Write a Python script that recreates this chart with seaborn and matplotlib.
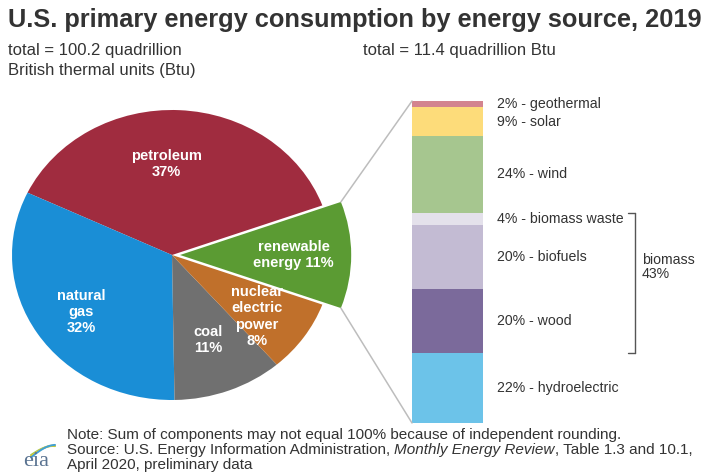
import numpy as np
import pandas as pd
import matplotlib
matplotlib.use("Agg")
import matplotlib.pyplot as plt
import seaborn as sns
from matplotlib.patches import ConnectionPatch
from matplotlib.transforms import blended_transform_factory
from matplotlib.lines import Line2D

# ---------------- data ----------------
pie_sources = ["renewable", "petroleum", "natural gas", "coal", "nuclear"]
pie_labels = ["renewable\nenergy 11%", "petroleum\n37%", "natural\ngas\n32%",
              "coal\n11%", "nuclear\nelectric\npower\n8%"]
pie_values = [11, 37, 32, 11, 8]
pie_colors = ["#5B9B33", "#A02C3F", "#1A8ED6", "#707070", "#C0702B"]

bar_sources = ["hydroelectric", "wood", "biofuels", "biomass waste", "wind", "solar", "geothermal"]
bar_values = [22, 20, 20, 4, 24, 9, 2]
bar_colors = ["#6CC3E9", "#7B6A9B", "#C3BBD3", "#E4E1EB", "#A6C68F", "#FDDC7A", "#D3848F"]
biomass_label = "biomass\n43%"

title = "U.S. primary energy consumption by energy source, 2019"
sub_left = ["total = 100.2 quadrillion", "British thermal units (Btu)"]
sub_right = "total = 11.4 quadrillion Btu"

# ---------------- style ----------------
sns.set_theme(style="white")
plt.rcParams["font.family"] = ["Liberation Sans", "DejaVu Sans"]
TXT = "#333333"

W, H = 707, 472
fig = plt.figure(figsize=(W / 100, H / 100), dpi=100)
fig.patch.set_facecolor("white")

def fx(px):
    return px / W

def fy(py):
    return 1 - py / H

# ---------------- pie ----------------
axp = fig.add_axes([fx(4), fy(414.5), 384 / W, 319 / H])
wedges, _ = axp.pie(pie_values, colors=pie_colors, startangle=-20,
                    explode=[0.05, 0, 0, 0, 0], counterclock=True,
                    wedgeprops=dict(linewidth=0))
wedges[0].set_radius(1.07)
axp.set_aspect("auto")
axp.set_xlim(-1.05, 1.35)
axp.set_ylim(-1.1, 1.1)
axp.axis("off")

label_r = [0.71, 0.63, 0.69, 0.63, 0.68]
label_shift = [0, 6, 2, 0, -4]
for w, lab, r, sh in zip(wedges, pie_labels, label_r, label_shift):
    ang = np.deg2rad((w.theta1 + w.theta2) / 2 + sh)
    cx, cy = w.center
    axp.text(cx + r * np.cos(ang), cy + r * np.sin(ang), lab, ha="center", va="center",
             color="white", fontweight="bold", fontsize=10.5, linespacing=1.2)

# ---------------- stacked bar ----------------
axb = fig.add_axes([fx(412), fy(423), 71 / W, 322 / H])
df = pd.DataFrame({"source": bar_sources, "value": bar_values, "color": bar_colors})
df["bottom"] = df["value"].cumsum() - df["value"]
for _, row in df.iterrows():
    sns.barplot(x=[0], y=[row["value"]], bottom=row["bottom"], color=row["color"],
                width=1, errorbar=None, linewidth=0, edgecolor="none",
                saturation=1, ax=axb, native_scale=True)
axb.set_xlim(-0.5, 0.5)
axb.set_ylim(0, df["value"].sum())
axb.axis("off")

tr = blended_transform_factory(axb.transAxes, axb.transData)
for _, row in df.iterrows():
    axb.text(1.197, row["bottom"] + row["value"] / 2, f"{row['value']}% - {row['source']}",
             transform=tr, ha="left", va="center", fontsize=10.2, color=TXT, clip_on=False)

# bracket for biomass
bio = df[df["source"].isin(["wood", "biofuels", "biomass waste"])]
b_lo = bio["bottom"].min()
b_hi = (bio["bottom"] + bio["value"]).max()
bx, tx = 3.14, 3.04
for xs, ys in [([bx, bx], [b_lo, b_hi]), ([tx, bx], [b_hi, b_hi]), ([tx, bx], [b_lo, b_lo])]:
    axb.add_line(Line2D(xs, ys, transform=tr, color="#555555", lw=1, clip_on=False))
axb.text(3.24, (b_lo + b_hi) / 2 + 5, biomass_label, transform=tr, ha="left", va="center",
         fontsize=10.2, color=TXT, linespacing=0.95, clip_on=False)

# connector lines
w0 = wedges[0]
cx, cy = w0.center
r0 = w0.r
for th, yb in [(w0.theta2, df["value"].sum()), (w0.theta1, 0)]:
    pa = (cx + r0 * np.cos(np.deg2rad(th)), cy + r0 * np.sin(np.deg2rad(th)))
    con = ConnectionPatch(xyA=pa, coordsA=axp.transData, xyB=(-0.5, yb), coordsB=axb.transData,
                          color="#BDBDBD", lw=1.1)
    fig.add_artist(con)

# ---------------- texts ----------------
fig.text(fx(8), fy(20), title, fontsize=18.3, fontweight="bold", color=TXT, ha="left", va="center")
fig.text(fx(8), fy(50), sub_left[0], fontsize=12, color=TXT, ha="left", va="center")
fig.text(fx(8), fy(71), sub_left[1], fontsize=12, color=TXT, ha="left", va="center")
fig.text(fx(363), fy(50), sub_right, fontsize=12, color=TXT, ha="left", va="center")

fs_note = 11
fig.text(fx(67), fy(435), "Note: Sum of components may not equal 100% because of independent rounding.",
         fontsize=fs_note, color=TXT, ha="left", va="center")
parts = [("Source: U.S. Energy Information Administration, ", "normal"),
         ("Monthly Energy Review", "italic"),
         (", Table 1.3 and 10.1,", "normal")]
fig.canvas.draw()
renderer = fig.canvas.get_renderer()
xpos = 67
for s, st in parts:
    t = fig.text(fx(xpos), fy(450), s, fontsize=fs_note, color=TXT, ha="left", va="center", style=st)
    bb = t.get_window_extent(renderer=renderer)
    xpos += bb.width
fig.text(fx(67), fy(465), "April 2020, preliminary data", fontsize=fs_note, color=TXT,
         ha="left", va="center")

# eia logo
fig.text(fx(23), fy(461), "eia", fontsize=16, family=["Liberation Serif", "DejaVu Serif"],
         color="#5A7391", ha="left", va="center")
for col, off in [("#9ACD4C", 0), ("#F3C623", 3), ("#3FA0D8", 6)]:
    t = np.linspace(0, 1, 30)
    xs = 31 + 24 * t
    ys = 455 - 9 * np.sin(np.pi * t * 0.55) + off * (1 - t) * 0.6 - off * 0.2
    fig.add_artist(Line2D(fx(xs), fy(ys), transform=fig.transFigure, color=col, lw=1.4))

fig.savefig("out.png", dpi=100, facecolor="white")
